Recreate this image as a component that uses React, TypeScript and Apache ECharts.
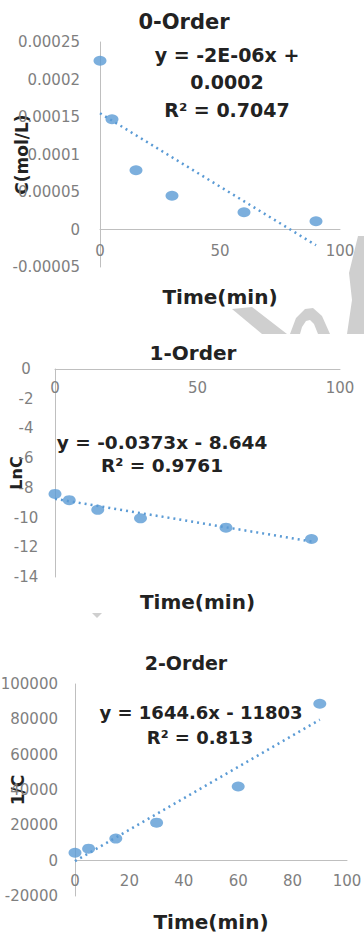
import React, { useEffect, useRef } from "react";
import * as echarts from "echarts";

// ---- data ----
const times = [0, 5, 15, 30, 60, 90];
const conc = [0.000225, 0.000147, 0.000079, 0.000045, 0.000023, 0.000011];
const lnC = [-8.41, -8.83, -9.48, -10.05, -10.68, -11.44];
const invC = [4500, 6800, 12500, 21500, 42000, 88800];

// trendline end points as drawn
const trend0 = [[0, 0.000155], [90, -0.000021]];
const trend1 = [[0, -8.74], [90, -11.61]];
const trend2 = [[0, -300], [90, 79800]];

// tick values
const xTicks01 = [0, 50, 100];
const xTicks2 = [0, 20, 40, 60, 80, 100];
const yTicks0 = [-0.00005, 0, 0.00005, 0.0001, 0.00015, 0.0002, 0.00025];
const yTicks1 = [-14, -12, -10, -8, -6, -4, -2, 0];
const yTicks2 = [-20000, 0, 20000, 40000, 60000, 80000, 100000];

// texts
const titles = ["0-Order", "1-Order", "2-Order"];
const equations0 = ["y = -2E-06x +", "0.0002", "R² = 0.7047"];
const equations1 = ["y = -0.0373x - 8.644", "R² = 0.9761"];
const equations2 = ["y = 1644.6x - 11803", "R² = 0.813"];
const yNames = ["C(mol/L)", "LnC", "1/C"];
const xName = "Time(min)";

const BLUE = "#5b9bd5";
const AXIS = "#bfbfbf";
const TICK = "#7f7f7f";
const DARK = "#222222";
const FONT = "DejaVu Sans";

const grids = [
  { left: 100, top: 42, width: 240, height: 225 },
  { left: 55, top: 369, width: 285, height: 208 },
  { left: 75, top: 684, width: 272, height: 212 },
];

function range(t: number[]) {
  return { min: t[0], max: t[t.length - 1], interval: t[1] - t[0] };
}

// distance from the grid bottom up to the y = 0 line
function zeroOffset(t: number[], h: number) {
  const r = range(t);
  return -h * (0 - r.min) / (r.max - r.min);
}

function txt(text: string, x: number, y: number, size: number) {
  return {
    type: "text",
    x,
    y,
    silent: true,
    style: {
      text,
      font: `bold ${size}px "${FONT}"`,
      fill: DARK,
      align: "center",
      verticalAlign: "middle",
      textAlign: "center",
      textVerticalAlign: "middle",
    },
  };
}

export default function App() {
  const ref = useRef<HTMLDivElement>(null);
  useEffect(() => {
    if (!ref.current) return;
    const chart = echarts.init(ref.current, undefined, { renderer: "svg" });

    const xBase = (ticks: number[], yT: number[], gi: number, gap: number, margin: number) => ({
      type: "value",
      gridIndex: gi,
      ...range(ticks),
      offset: zeroOffset(yT, grids[gi].height),
      axisLine: { show: true, onZero: false, lineStyle: { color: AXIS, width: 1 } },
      axisTick: { show: false },
      splitLine: { show: false },
      axisLabel: { color: TICK, fontSize: 15, fontFamily: FONT, margin, formatter: (v: number) => String(v) },
      name: xName,
      nameLocation: "middle",
      nameGap: gap,
      nameMoveOverlap: false,
      nameTextStyle: { color: DARK, fontSize: 20, fontWeight: "bold", fontFamily: FONT },
    });

    const yBase = (
      ticks: number[],
      gi: number,
      name: string,
      gap: number,
      nameSize: number,
      margin: number,
      align: string,
      fmt: (v: number) => string
    ) => ({
      type: "value",
      gridIndex: gi,
      ...range(ticks),
      axisLine: { show: true, onZero: false, lineStyle: { color: AXIS, width: 1 } },
      axisTick: { show: false },
      splitLine: { show: false },
      axisLabel: {
        color: TICK,
        fontSize: 15,
        fontFamily: FONT,
        margin,
        align,
        formatter: fmt,
      },
      name,
      nameLocation: "middle",
      nameRotate: 90,
      nameGap: gap,
      nameMoveOverlap: false,
      nameTextStyle: { color: DARK, fontSize: nameSize, fontWeight: "bold", fontFamily: FONT },
    });

    const scatter = (gi: number, ys: number[]) => ({
      type: "scatter",
      xAxisIndex: gi,
      yAxisIndex: gi,
      symbol: "circle",
      symbolSize: [13, 10],
      itemStyle: { color: BLUE },
      data: times.map((t, i) => [t, ys[i]]),
      z: 3,
    });

    const trend = (gi: number, pts: number[][]) => ({
      type: "line",
      xAxisIndex: gi,
      yAxisIndex: gi,
      symbol: "none",
      lineStyle: { color: BLUE, width: 2.5, type: [2, 4] },
      data: pts,
      z: 2,
    });

    const watermark = [
      { type: "polygon", shape: { points: [[232, 309], [252, 307], [287, 334], [262, 334]] } },
      {
        type: "polygon",
        shape: {
          points: [[290, 334], [296, 318], [305, 309], [313, 308], [322, 316], [330, 334], [318, 334], [314, 324], [310, 320], [306, 321], [302, 327], [300, 334]],
        },
      },
      { type: "polygon", shape: { points: [[358, 236], [364, 236], [364, 334], [347, 334], [352, 300], [349, 273]] } },
      { type: "polygon", shape: { points: [[92, 613], [102, 613], [97, 618]] } },
    ].map((g) => ({ ...g, silent: true, z: -10, style: { fill: "#cfcfcf" } }));

    const plain = (v: number) => String(v);

    chart.setOption({
      animation: false,
      backgroundColor: "#ffffff",
      grid: grids.map((g) => ({ ...g, outerBoundsMode: "none", containLabel: false })),
      xAxis: [
        xBase(xTicks01, yTicks0, 0, 57, 14),
        xBase(xTicks01, yTicks1, 1, 223, 11),
        xBase(xTicks2, yTicks2, 2, 51, 13),
      ],
      yAxis: [
        yBase(yTicks0, 0, yNames[0], 70, 17, 20, "right", (v: number) => String(+v.toFixed(6))),
        yBase(yTicks1, 1, yNames[1], 31, 16, 29, "center", plain),
        yBase(yTicks2, 2, yNames[2], 49, 17, 17, "right", plain),
      ],
      series: [
        trend(0, trend0),
        scatter(0, conc),
        trend(1, trend1),
        scatter(1, lnC),
        trend(2, trend2),
        scatter(2, invC),
      ],
      graphic: [
        ...watermark,
        txt(titles[0], 184, 22, 21),
        txt(equations0[0], 227, 55, 19),
        txt(equations0[1], 227, 82, 19),
        txt(equations0[2], 227, 110, 19),
        txt(titles[1], 193, 353, 20),
        txt(equations1[0], 162, 442, 18.5),
        txt(equations1[1], 162, 465, 18.5),
        txt(titles[2], 186, 663, 19),
        txt(equations2[0], 201, 712, 18),
        txt(equations2[1], 200, 737, 18),
      ],
    });
    return () => chart.dispose();
  }, []);
  return (
    <div
      ref={ref}
      style={{ position: "absolute", left: 0, top: 0, width: 364, height: 934, background: "#fff" }}
    />
  );
}
